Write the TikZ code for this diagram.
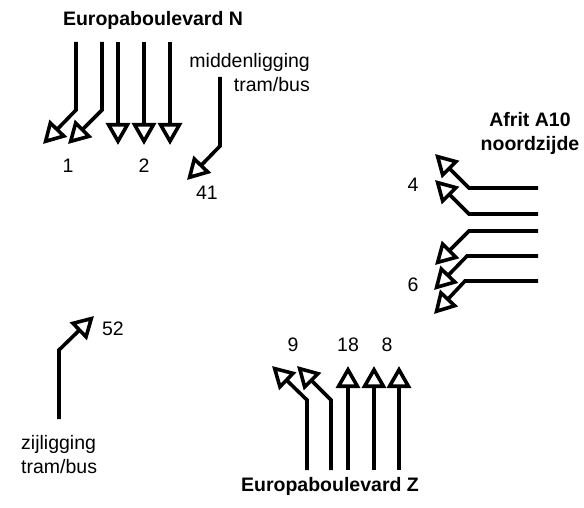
\documentclass[tikz,border=0pt]{standalone}
\usepackage{fontspec}
\setmainfont{Liberation Sans}
\usetikzlibrary{arrows.meta}

\begin{document}
\begin{tikzpicture}[x = 1pt, y = -1pt,
    lane/.style = {line width = 3.6pt, -{Triangle[open, length = 22pt, width = 24pt]}},
    txt/.style = {font = \fontsize{19.5}{24}\selectfont, inner sep = 0pt},
    road/.style = {font = \fontsize{19.5}{24}\selectfont\bfseries, inner sep = 0pt}]

\useasboundingbox (0, 0) rectangle (584, 508);

% Lanes north
    \coordinate (N1s) at (76, 42);   \coordinate (N1b) at (76, 110);  \coordinate (N1e) at (43, 144);
    \coordinate (N2s) at (102, 42);  \coordinate (N2b) at (102, 110); \coordinate (N2e) at (68, 144);
    \coordinate (N3s) at (118, 42);  \coordinate (N3e) at (118, 145);
    \coordinate (N4s) at (144, 42);  \coordinate (N4e) at (144, 145);
    \coordinate (N5s) at (170, 42);  \coordinate (N5e) at (170, 145);
    \coordinate (Ms) at (220, 77);   \coordinate (Mb) at (220, 146);  \coordinate (Me) at (187, 180);

% Lanes east
    \coordinate (E1s) at (538, 188); \coordinate (E1b) at (469, 188); \coordinate (E1e) at (435, 154);
    \coordinate (E2s) at (538, 214); \coordinate (E2b) at (469, 214); \coordinate (E2e) at (435, 180);
    \coordinate (E3s) at (538, 231); \coordinate (E3b) at (469, 231); \coordinate (E3e) at (435, 265);
    \coordinate (E4s) at (538, 256); \coordinate (E4b) at (467, 256); \coordinate (E4e) at (434, 290);
    \coordinate (E5s) at (538, 281); \coordinate (E5b) at (465, 281); \coordinate (E5e) at (434, 314);

% Lanes south
    \coordinate (Ts) at (59, 419);   \coordinate (Tb) at (59, 350);   \coordinate (Te) at (94, 316);
    \coordinate (S1s) at (307, 470); \coordinate (S1b) at (307, 400); \coordinate (S1e) at (272, 366);
    \coordinate (S2s) at (331, 470); \coordinate (S2b) at (331, 400); \coordinate (S2e) at (297, 366);
    \coordinate (S3s) at (348, 470); \coordinate (S3e) at (348, 366);
    \coordinate (S4s) at (374, 470); \coordinate (S4e) at (374, 366);
    \coordinate (S5s) at (399, 470); \coordinate (S5e) at (399, 366);

% Directions
    \draw [lane] (N1s) -- (N1b) -- (N1e);
    \draw [lane] (N2s) -- (N2b) -- (N2e);
    \draw [lane] (N3s) -- (N3e);
    \draw [lane] (N4s) -- (N4e);
    \draw [lane] (N5s) -- (N5e);
    \draw [lane] (Ms) -- (Mb) -- (Me);

    \draw [lane] (E1s) -- (E1b) -- (E1e);
    \draw [lane] (E2s) -- (E2b) -- (E2e);
    \draw [lane] (E3s) -- (E3b) -- (E3e);
    \draw [lane] (E4s) -- (E4b) -- (E4e);
    \draw [lane] (E5s) -- (E5b) -- (E5e);

    \draw [lane] (Ts) -- (Tb) -- (Te);
    \draw [lane] (S1s) -- (S1b) -- (S1e);
    \draw [lane] (S2s) -- (S2b) -- (S2e);
    \draw [lane] (S3s) -- (S3e);
    \draw [lane] (S4s) -- (S4e);
    \draw [lane] (S5s) -- (S5e);

% Roads
    \node[road] (roadN) at (153, 20) {Europaboulevard N};
    \node[road] (roadZ) at (330, 486) {Europaboulevard Z};
    \node[road, align = center] (afrit) at (530, 133) {Afrit A10\\noordzijde};
    \node[txt, align = right, anchor = east] (midden) at (310, 73) {middenligging\\tram/bus};
    \node[txt, align = left, anchor = west] (zij) at (21, 455) {zijligging\\tram/bus};

% Lane numbers
    \node[txt] (l1) at (68, 166) {1};
    \node[txt] (l2) at (144, 166) {2};
    \node[txt] (l41) at (207, 193) {41};
    \node[txt] (l4) at (413, 185) {4};
    \node[txt] (l6) at (413, 285) {6};
    \node[txt] (l52) at (113, 329) {52};
    \node[txt] (l9) at (293, 345) {9};
    \node[txt] (l18) at (348, 345) {18};
    \node[txt] (l8) at (387, 345) {8};

\end{tikzpicture}
\end{document}
